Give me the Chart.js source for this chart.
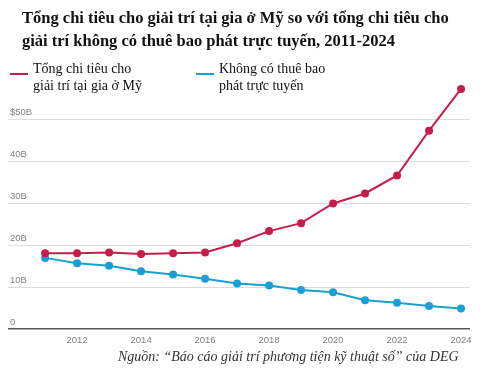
<!DOCTYPE html>
<html>
<head>
<meta charset="utf-8">
<script src="https://cdn.jsdelivr.net/npm/chart.js@4"></script>
<style>
  body { margin: 0; background: #fff; }
  #wrap { position: relative; width: 480px; height: 373px; overflow: hidden; }
  #chart { position: absolute; left: 0; top: 0; }
  .title {
    position: absolute; left: 22px; top: 6px;
    font: bold 16.5px "Liberation Serif", serif; line-height: 23px; color: #111;
  }
  .leg { position: absolute; top: 60px; font: 14px "Liberation Serif", serif; line-height: 17px; color: #111; }
  .leg i { position: absolute; left: 0; top: 13px; width: 18px; height: 2px; }
  .leg span { display: block; margin-left: 23px; }
  .src {
    position: absolute; left: 118px; top: 349px;
    font: italic 14px "Liberation Serif", serif; color: #333;
  }
</style>
</head>
<body>
<div id="wrap">
  <canvas id="chart" width="480" height="373"></canvas>
  <div class="title">Tổng chi tiêu cho giải trí tại gia ở Mỹ so với tổng chi tiêu cho<br>giải trí không có thuê bao phát trực tuyến, 2011-2024</div>
  <div class="leg" style="left:10px"><i style="background:#c41e4a"></i><span>Tổng chi tiêu cho<br>giải trí tại gia ở Mỹ</span></div>
  <div class="leg" style="left:196px"><i style="background:#1a9fd4"></i><span>Không có thuê bao<br>phát trực tuyến</span></div>
  <div class="src">Nguồn: “Báo cáo giải trí phương tiện kỹ thuật số” của DEG</div>
</div>
<script>
// số liệu (tỷ USD)
const years = [2011, 2012, 2013, 2014, 2015, 2016, 2017, 2018, 2019, 2020, 2021, 2022, 2023, 2024];
const totalSpend = [18.1, 18.1, 18.3, 17.9, 18.1, 18.3, 20.5, 23.4, 25.3, 30.0, 32.4, 36.7, 47.4, 57.4];
const noStreaming = [17.0, 15.7, 15.1, 13.8, 13.0, 12.0, 10.9, 10.4, 9.3, 8.8, 6.9, 6.3, 5.5, 4.9];
const tickYears = [2012, 2014, 2016, 2018, 2020, 2022, 2024];
const yTicks = [0, 10, 20, 30, 40, 50];

const red = '#c41e4a';
const blue = '#1a9fd4';

function toPoints(arr) {
  return years.map((y, i) => ({ x: y, y: arr[i] }));
}

new Chart(document.getElementById('chart'), {
  type: 'line',
  data: {
    datasets: [
      {
        label: 'Tổng chi tiêu cho giải trí tại gia ở Mỹ',
        data: toPoints(totalSpend),
        borderColor: red, backgroundColor: red,
        borderWidth: 2, pointRadius: 3, pointHoverRadius: 3
      },
      {
        label: 'Không có thuê bao phát trực tuyến',
        data: toPoints(noStreaming),
        borderColor: blue, backgroundColor: blue,
        borderWidth: 2, pointRadius: 3, pointHoverRadius: 3
      }
    ]
  },
  options: {
    responsive: false,
    animation: false,
    layout: { padding: { left: 8, right: 10, top: 78, bottom: 24 } },
    plugins: { legend: { display: false }, tooltip: { enabled: false } },
    scales: {
      x: {
        type: 'linear',
        min: 2009.84, max: 2024.28,
        afterBuildTicks: axis => { axis.ticks = tickYears.map(v => ({ value: v })); },
        afterFit: axis => { axis.height = 20; },
        grid: { display: false, drawTicks: false },
        border: { display: false },
        ticks: {
          padding: 6,
          color: '#808080',
          font: { family: 'Liberation Sans', size: 9.5 },
          callback: v => String(v),
          maxRotation: 0
        }
      },
      y: {
        min: 0, max: 60,
        afterBuildTicks: axis => { axis.ticks = yTicks.map(v => ({ value: v })); },
        afterFit: axis => { axis.width = 0; },
        border: { display: false },
        grid: {
          drawTicks: false,
          color: ctx => ctx.tick && ctx.tick.value === 0 ? '#555' : '#dcdcdc',
          lineWidth: ctx => ctx.tick && ctx.tick.value === 0 ? 1.5 : 1
        },
        ticks: {
          mirror: true,
          padding: 2,
          labelOffset: -7,
          color: '#808080',
          font: { family: 'Liberation Sans', size: 9.5 },
          callback: v => v === 50 ? '$50B' : v === 0 ? '0' : v + 'B'
        }
      }
    }
  }
});
</script>
</body>
</html>
